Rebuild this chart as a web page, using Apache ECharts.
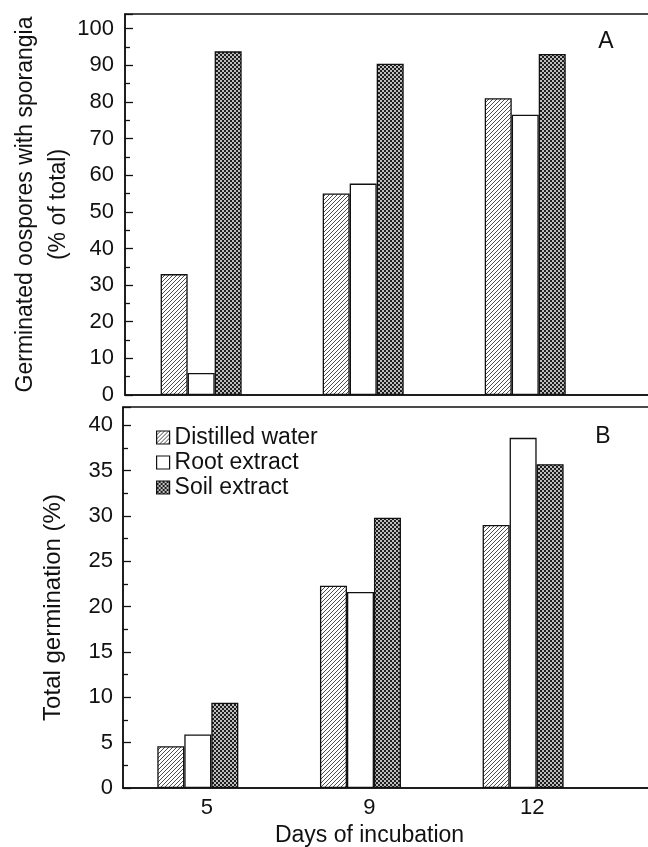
<!DOCTYPE html>
<html>
<head>
<meta charset="utf-8">
<script src="https://cdn.jsdelivr.net/npm/echarts@6/dist/echarts.min.js"></script>
<style>
html,body{margin:0;padding:0;background:#fff;}
#chart{width:648px;height:847px;}
</style>
</head>
<body>
<div id="chart"></div>
<script>
// ---- data ----
const categories = ['5', '9', '12'];
const seriesNames = ['Distilled water', 'Root extract', 'Soil extract'];
// Panel A: Germinated oospores with sporangia (% of total)
const sporangiaDistilled = [33, 55, 81];
const sporangiaRoot = [6, 57.7, 76.5];
const sporangiaSoil = [93.8, 90.4, 93.1];
// Panel B: Total germination (%)
const germDistilled = [4.6, 22.3, 29.0];
const germRoot = [5.9, 21.6, 38.6];
const germSoil = [9.4, 29.8, 35.7];
const ticksA = [0, 10, 20, 30, 40, 50, 60, 70, 80, 90, 100];
const ticksB = [0, 5, 10, 15, 20, 25, 30, 35, 40];

// ---- patterns ----
function hatchPattern() {
  const c = document.createElement('canvas');
  const s = 4;
  c.width = s; c.height = s;
  const g = c.getContext('2d');
  g.fillStyle = '#fff'; g.fillRect(0, 0, s, s);
  g.strokeStyle = '#3a3a3a'; g.lineWidth = 0.9;
  g.beginPath();
  g.moveTo(-1, s + 1); g.lineTo(s + 1, -1);
  g.moveTo(-1, 1); g.lineTo(1, -1);
  g.moveTo(s - 1, s + 1); g.lineTo(s + 1, s - 1);
  g.stroke();
  return c;
}
function dotPattern() {
  const c = document.createElement('canvas');
  const s = 4;
  c.width = s; c.height = s;
  const g = c.getContext('2d');
  g.fillStyle = '#1e1e1e'; g.fillRect(0, 0, s, s);
  g.fillStyle = '#f4f4f4';
  [[1, 1], [3, 3]].forEach(p => {
    g.beginPath(); g.arc(p[0], p[1], 1.0, 0, Math.PI * 2); g.fill();
  });
  return c;
}
const fills = [
  { image: hatchPattern(), repeat: 'repeat' },
  '#ffffff',
  { image: dotPattern(), repeat: 'repeat' }
];

const ink = '#111';
const font = 'Liberation Sans';
const lineStyle = { color: ink, width: 1.5 };

function makeSeries(values, idx, gridIdx) {
  return {
    type: 'bar',
    name: seriesNames[idx],
    xAxisIndex: gridIdx,
    yAxisIndex: gridIdx,
    barWidth: 27,
    barGap: '0%',
    data: values.map((v, i) => [i, v]),
    itemStyle: { color: fills[idx], borderColor: ink, borderWidth: 1.3 },
    emphasis: { disabled: true },
    animation: false
  };
}

function yAxis(gridIdx, max, interval, name, nameGap, margin, namePad, lh, nameSize, fmtTicks) {
  return {
    gridIndex: gridIdx, type: 'value', min: 0, max: max, interval: interval,
    axisLine: { show: true, onZero: false, lineStyle: lineStyle },
    axisTick: { show: true, inside: true, length: 8, lineStyle: { color: ink, width: 1.3 } },
    minorTick: { show: true, splitNumber: 2, length: 5, lineStyle: { color: ink, width: 1.3 } },
    splitLine: { show: false },
    axisLabel: {
      fontSize: 22, color: ink, fontFamily: font, margin: margin,
      formatter: v => (fmtTicks.indexOf(v) >= 0 ? String(v) : '')
    },
    name: name, nameLocation: 'middle', nameGap: nameGap, nameRotate: 90,
    nameMoveOverlap: false,
    nameTextStyle: { fontSize: nameSize, color: ink, fontFamily: font, lineHeight: lh, padding: namePad }
  };
}

const chart = echarts.init(document.getElementById('chart'), null, { renderer: 'canvas' });
chart.setOption({
  animation: false,
  textStyle: { fontFamily: font, color: ink },
  grid: [
    { left: 125, top: 14, right: -2, bottom: 452, show: true, borderColor: ink, borderWidth: 1.5, containLabel: false, outerBoundsMode: 'none' },
    { left: 123, top: 407, right: -2, bottom: 59, show: true, borderColor: ink, borderWidth: 1.5, containLabel: false, outerBoundsMode: 'none' }
  ],
  xAxis: [
    {
      gridIndex: 0, type: 'value', min: -0.47, max: 2.77,
      axisLine: { show: true, onZero: false, lineStyle: lineStyle }, axisTick: { show: false },
      axisLabel: { show: false }, splitLine: { show: false }
    },
    {
      gridIndex: 1, type: 'value', min: -0.46, max: 2.78,
      axisLine: { show: true, onZero: false, lineStyle: lineStyle }, axisTick: { show: false },
      splitLine: { show: false },
      axisLabel: {
        customValues: categories.map((c, i) => i),
        formatter: v => categories[Math.round(v)],
        fontSize: 22, color: ink, fontFamily: font, margin: 9, padding: [0, 0, 0, 18]
      },
      name: 'Days of incubation', nameLocation: 'middle', nameGap: 36, nameMoveOverlap: false,
      nameTextStyle: { fontSize: 23, color: ink, fontFamily: font, padding: [0, 34, 0, 0] }
    }
  ],
  yAxis: [
    yAxis(0, 104, 10, 'Germinated oospores with sporangia\n(% of total)', 50, 11, [0, 0, 0, 0], 33, 23, ticksA),
    yAxis(1, 42, 5, 'Total germination (%)', 57, 10, [0, 20, 0, 0], 26, 24, ticksB)
  ],
  legend: {
    orient: 'vertical', left: 156, top: 426, padding: 0,
    itemWidth: 13, itemHeight: 13, itemGap: 2, icon: 'rect',
    itemStyle: { borderColor: ink, borderWidth: 1.2 },
    textStyle: { fontSize: 23, color: ink, fontFamily: font, lineHeight: 23 },
    data: seriesNames,
    selectedMode: false
  },
  graphic: [
    { type: 'text', x: 606, y: 42, style: { text: 'A', fontSize: 23, fontFamily: font, fill: ink, align: 'center', verticalAlign: 'middle' } },
    { type: 'text', x: 603, y: 437, style: { text: 'B', fontSize: 23, fontFamily: font, fill: ink, align: 'center', verticalAlign: 'middle' } }
  ],
  series: [
    makeSeries(sporangiaDistilled, 0, 0),
    makeSeries(sporangiaRoot, 1, 0),
    makeSeries(sporangiaSoil, 2, 0),
    makeSeries(germDistilled, 0, 1),
    makeSeries(germRoot, 1, 1),
    makeSeries(germSoil, 2, 1)
  ]
});
</script>
</body>
</html>
